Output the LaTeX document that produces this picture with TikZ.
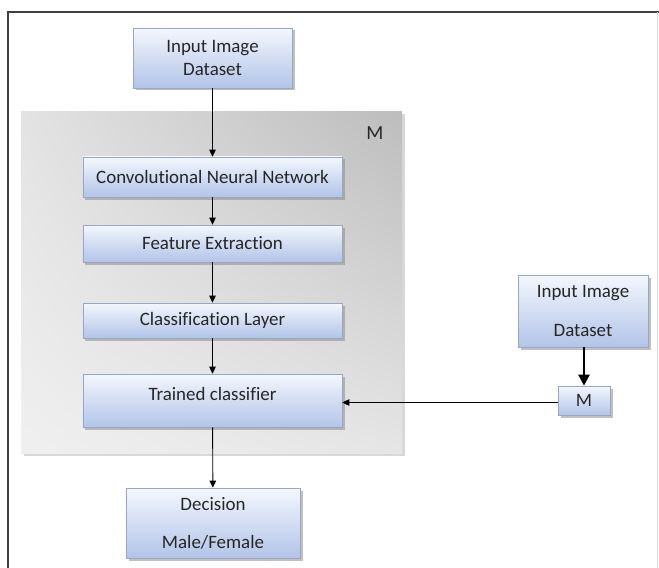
\documentclass[tikz,border=0pt]{standalone}
\usepackage{fontspec}
\setmainfont{Carlito}[RawFeature=-liga]
\usetikzlibrary{arrows.meta,shadows,shadings}

\definecolor{boxtop}{HTML}{F4F7FD}
\definecolor{boxbot}{HTML}{B2C4E8}
\definecolor{boxline}{HTML}{98A8C4}
\definecolor{txt}{HTML}{262626}
\definecolor{frameline}{HTML}{404040}

\tikzset{
  stage/.style={draw=boxline, line width=0.6bp, top color=boxtop, bottom color=boxbot,
    text=txt, font=\fontsize{19}{23}\selectfont, align=center, inner sep=0pt,
    drop shadow={shadow xshift=2.5bp, shadow yshift=-2.5bp, fill=black!45, opacity=0.55}},
  flow/.style={draw=black, line width=0.9bp, -{Triangle[length=7bp,width=6.5bp]}},
  bigflow/.style={draw=black, line width=2.4bp, -{Triangle[length=11bp,width=11bp]}},
}

\begin{document}
\begin{tikzpicture}[x=1bp,y=-1bp]
  \useasboundingbox (0,0) rectangle (659,568);

  % page frame
  \draw[frameline, line width=1.3bp] (8,568) -- (8,12) -- (659,12);
  \draw[black!15, line width=0.8bp] (657,12) -- (657,568);

  % grey container for the model M
  \fill[black!30, opacity=0.5] (23.5,114.5) rectangle (404.5,455.5);
  \shade[upper left=black!11, upper right=black!26, lower left=black!6, lower right=black!10]
    (21,112) rectangle (402,453);
  \node[text=txt, font=\fontsize{20}{23}\selectfont] (mlabel) at (375,133) {M};

  % main pipeline
  \node[stage, minimum width=159bp, minimum height=60bp] (in1) at (212.5,58)
    {Input Image\\Dataset};
  \node[stage, minimum width=259bp, minimum height=40bp] (cnn) at (212.5,177)
    {Convolutional Neural Network};
  \node[stage, minimum width=259bp, minimum height=37bp] (fe) at (212.5,243.5)
    {Feature Extraction};
  \node[stage, minimum width=259bp, minimum height=35bp] (cl) at (212.5,320.5)
    {Classification Layer};
  \node[stage, minimum width=259bp, minimum height=53bp,
    label={[text=txt, font=\fontsize{19}{23}\selectfont, yshift=7bp]center:Trained classifier}]
    (tc) at (212.5,400.5) {};
  \node[stage, minimum width=174bp, minimum height=70bp, font=\fontsize{19}{38}\selectfont]
    (dec) at (213,523) {Decision\\Male/Female};

  % side input
  \node[stage, minimum width=130bp, minimum height=72bp, font=\fontsize{19}{39}\selectfont]
    (in2) at (583,311) {Input Image\\Dataset};
  \node[stage, minimum width=52bp, minimum height=29bp] (m) at (584,400.5) {M};

  % connectors
  \draw[flow] (in1) -- (cnn);
  \draw[flow] (cnn) -- (fe);
  \draw[flow] (fe) -- (cl);
  \draw[flow] (cl) -- (tc);
  \draw[flow] (tc) -- (dec);
  \draw[bigflow] (in2.south -| m.north) -- (m.north);
  \draw[flow] ([yshift=-2bp]m.west) -- ([yshift=-2bp]m.west -| tc.east);
\end{tikzpicture}
\end{document}
